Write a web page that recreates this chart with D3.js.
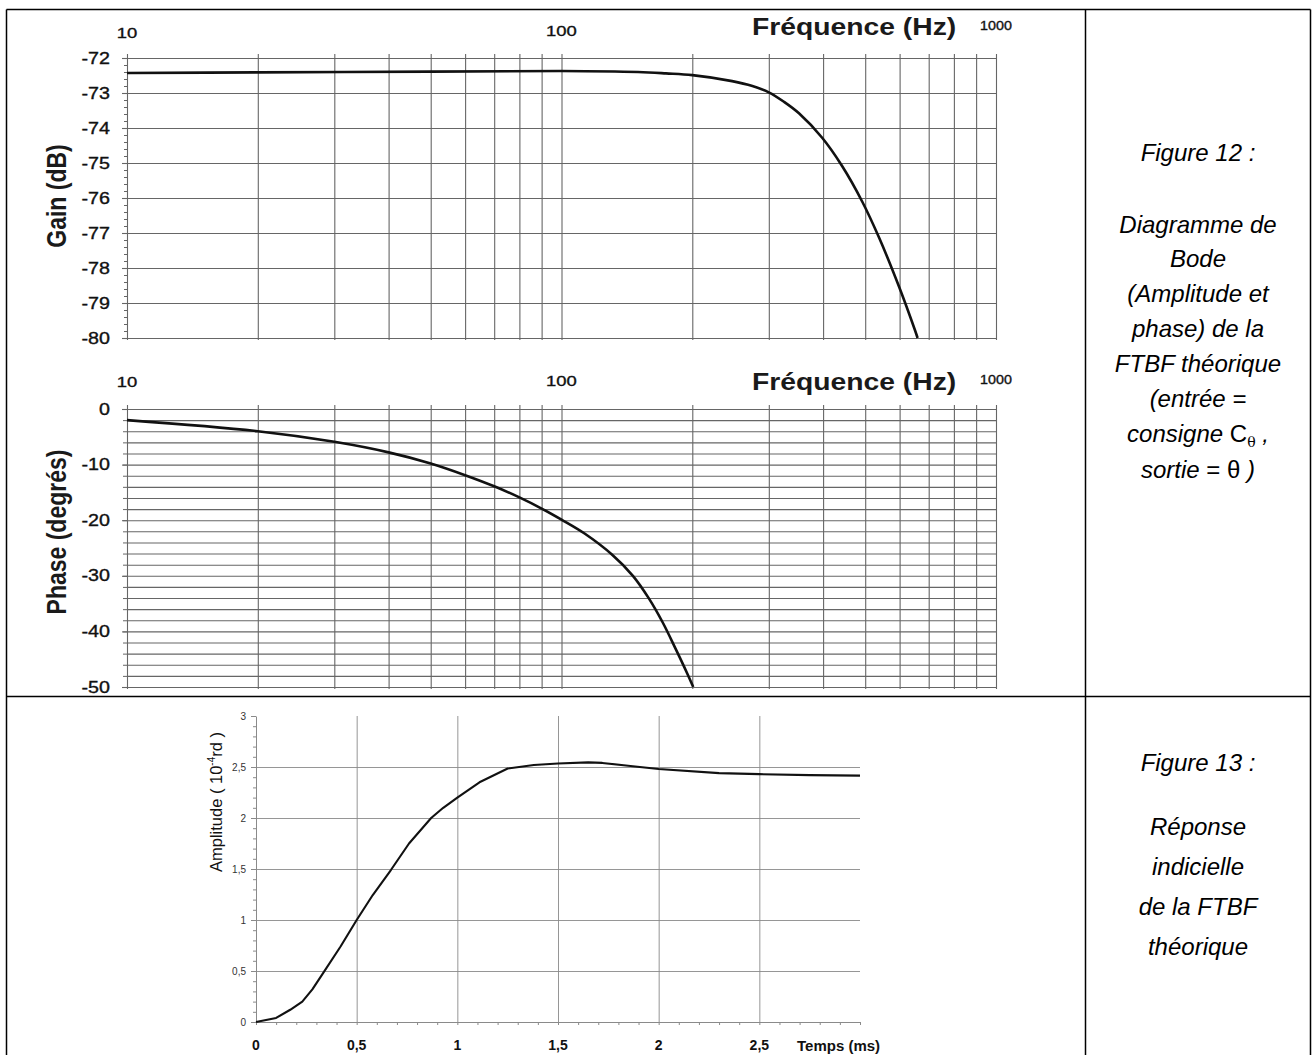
<!DOCTYPE html>
<html><head><meta charset="utf-8">
<script src="https://cdn.jsdelivr.net/npm/d3@7"></script>
<style>body{margin:0;background:#fff}svg{display:block}</style>
</head><body>
<svg id="c" width="1313" height="1055"></svg>
<script>
// ---------- data ----------
const gainFreq = [10, 20, 50, 100, 150, 174, 200, 247, 275, 300, 325, 352, 398, 442, 492, 538, 598, 651, 660];
const gainDb   = [-72.43, -72.41, -72.39, -72.37, -72.40, -72.44, -72.49, -72.66, -72.8, -72.98, -73.25, -73.58, -74.28, -75.08, -76.1, -77.13, -78.53, -79.78, -80.0];
const phaseFreq = [10, 20, 30, 40, 50, 60, 70, 80, 90, 100, 113, 131, 146, 159, 171, 183, 194, 201];
const phaseDeg  = [-2.0, -4.0, -5.9, -7.8, -9.8, -11.9, -13.9, -15.9, -17.9, -19.9, -22.4, -26.25, -30.0, -34.1, -38.4, -43.1, -47.3, -50.0];
const stepTime = [0, 0.1, 0.17, 0.23, 0.28, 0.33, 0.42, 0.5, 0.58, 0.67, 0.76, 0.87, 0.93, 1.0, 1.11, 1.25, 1.38, 1.5, 1.65, 1.72, 1.86, 2.0, 2.3, 2.5, 2.75, 3.0];
const stepAmp  = [0, 0.04, 0.12, 0.2, 0.32, 0.47, 0.74, 1.0, 1.245, 1.49, 1.75, 2.0, 2.1, 2.2, 2.35, 2.485, 2.52, 2.535, 2.545, 2.54, 2.51, 2.48, 2.44, 2.43, 2.42, 2.415];
const freqLabels = [10, 100, 1000];
const freqGrid = [10,20,30,40,50,60,70,80,90,100,200,300,400,500,600,700,800,900,1000];
const gainTicks = [-72,-73,-74,-75,-76,-77,-78,-79,-80];
const phaseTicks = [0,-10,-20,-30,-40,-50];
const stepXTicks = [0, 0.5, 1, 1.5, 2, 2.5];
const stepXLabels = ["0","0,5","1","1,5","2","2,5"];
const stepYTicks = [0, 0.5, 1, 1.5, 2, 2.5, 3];
const stepYLabels = ["0","0,5","1","1,5","2","2,5","3"];
const fig12Lines = [
  [["Figure 12 :","i"]],
  [["Diagramme de","i"]],
  [["Bode","i"]],
  [["(Amplitude et","i"]],
  [["phase) de la","i"]],
  [["FTBF théorique","i"]],
  [["(entrée =","i"]],
  [["consigne ","i"],["C","n"],["θ","sub"],["  ,","i"]],
  [["sortie ","i"],["= θ","n"],[" )","i"]]
];
const fig12Base = [161, 233, 267, 302, 337, 372, 407, 442, 478];
const fig13Lines = [
  [["Figure 13 :","i"]],
  [["Réponse","i"]],
  [["indicielle","i"]],
  [["de la FTBF","i"]],
  [["théorique","i"]]
];
const fig13Base = [771, 835, 875, 915, 955];

// ---------- setup ----------
const FONT = "'Liberation Sans', Arial, Helvetica, sans-serif";
const svg = d3.select("#c").attr("font-family", FONT);
svg.append("rect").attr("width",1313).attr("height",1055).attr("fill","#fff");

// table frame
const tb = svg.append("g").attr("stroke","#000").attr("stroke-width",1.5);
[[6.5,9.5,1310.5,9.5],[6.5,9.5,6.5,1070],[1310.5,9.5,1310.5,1070],[1085.5,9.5,1085.5,1070],[6.5,696.5,1310.5,696.5]]
  .forEach(l=>tb.append("line").attr("x1",l[0]).attr("y1",l[1]).attr("x2",l[2]).attr("y2",l[3]));

// ---------- Bode charts ----------
const XL = 127, XR = 996, SX = 1.23;
const xF = d3.scaleLog().domain([10,1000]).range([XL, XR]);
const gridCol = "#666";

function bode(cfg){
  const y = d3.scaleLinear().domain(cfg.domain).range([cfg.bottom, cfg.top]);
  const g = svg.append("g");
  g.append("g").attr("transform",`translate(${XL},0)`)
    .call(d3.axisLeft(y).tickValues(cfg.grid).tickSize(-(XR-XL)).tickFormat(""))
    .call(s=>{s.select(".domain").remove(); s.selectAll("line").attr("stroke",gridCol).attr("stroke-width",1.1);});
  g.append("g").attr("transform",`translate(${XL},0)`)
    .call(d3.axisLeft(y).tickValues(cfg.minor).tickSize(cfg.minorSize).tickFormat(""))
    .call(s=>{s.select(".domain").remove(); s.selectAll("line").attr("stroke",gridCol).attr("stroke-width",1);});
  g.append("g").attr("transform",`translate(${XL},0)`)
    .call(d3.axisLeft(y).tickValues(cfg.labels).tickSize(5).tickFormat(""))
    .call(s=>{s.select(".domain").remove(); s.selectAll("line").attr("stroke",gridCol).attr("stroke-width",1.1);});
  g.append("g").attr("transform",`translate(0,${cfg.bottom+2})`)
    .call(d3.axisBottom(xF).tickValues(freqGrid).tickSize(-(cfg.bottom-cfg.top+6)).tickFormat(""))
    .call(s=>{s.select(".domain").remove(); s.selectAll("line").attr("stroke",gridCol).attr("stroke-width",1.1);});
  g.selectAll("text.yl").data(cfg.labels).join("text").attr("class","yl")
    .attr("transform",d=>`translate(110,${y(d)+5.5}) scale(${SX},1)`)
    .attr("text-anchor","end").attr("font-size",16).attr("fill","#111")
    .attr("stroke","#111").attr("stroke-width",0.35).text(d=>String(d));
  g.selectAll("text.fl").data(freqLabels).join("text").attr("class","fl")
    .attr("transform",(d,i)=>`translate(${xF(d)},${cfg.labelBase[i]}) scale(${i==2?1.1:SX},1)`)
    .attr("text-anchor","middle").attr("font-size",(d,i)=>i==2?13:15).attr("fill","#111")
    .attr("stroke","#111").attr("stroke-width",0.35).text(d=>String(d));
  g.append("text").attr("transform",`translate(752,${cfg.titleBase}) scale(${SX},1)`)
    .attr("font-size",23).attr("font-weight","bold").attr("fill","#1a1a1a").text("Fréquence (Hz)");
  g.append("text").attr("transform",`translate(66,${cfg.titleCy}) rotate(-90) scale(1,${SX})`)
    .attr("text-anchor","middle").attr("font-size",23).attr("font-weight","bold").attr("fill","#1a1a1a").text(cfg.title);
  const pts = cfg.fx.map((f,i)=>[f,cfg.vy[i]]);
  g.append("path").datum(pts)
    .attr("d", d3.line().x(d=>xF(d[0])).y(d=>y(d[1])).curve(d3.curveCatmullRom.alpha(0.5)))
    .attr("fill","none").attr("stroke","#111").attr("stroke-width",2.6);
}

bode({top:58, bottom:338, domain:[-80,-72], grid:d3.range(-80,-71.5,1),
  minor:d3.range(0,41).map(i=>-80+i*0.2), minorSize:3, labels:gainTicks,
  labelBase:[38,36,30], titleBase:35, title:"Gain (dB)", titleCy:196, fx:gainFreq, vy:gainDb});
bode({top:409, bottom:687, domain:[-50,0], grid:d3.range(-50,0.5,2),
  minor:d3.range(-50,0.5,2), minorSize:4, labels:phaseTicks,
  labelBase:[387,386,384], titleBase:390, title:"Phase (degrés)", titleCy:532, fx:phaseFreq, vy:phaseDeg});

// ---------- Step response ----------
const xs = d3.scaleLinear().domain([0,3]).range([256,860]);
const ys = d3.scaleLinear().domain([0,3]).range([1022,716]);
const sg = svg.append("g");
const lightCol = "#8a8a8a";
sg.append("g").attr("transform","translate(256,0)")
  .call(d3.axisLeft(ys).tickValues([0.5,1,1.5,2,2.5]).tickSize(-(860-256)).tickFormat(""))
  .call(s=>{s.select(".domain").remove(); s.selectAll("line").attr("stroke",lightCol).attr("stroke-width",0.9);});
sg.append("g").attr("transform","translate(0,1022)")
  .call(d3.axisBottom(xs).tickValues([0.5,1,1.5,2,2.5]).tickSize(-(1022-716)).tickFormat(""))
  .call(s=>{s.select(".domain").remove(); s.selectAll("line").attr("stroke",lightCol).attr("stroke-width",0.9);});
sg.append("g").attr("transform","translate(256,0)")
  .call(d3.axisLeft(ys).tickValues(d3.range(0,31).map(i=>i/10)).tickSize(3).tickSizeOuter(0).tickFormat(""))
  .call(s=>{s.select(".domain").attr("stroke",lightCol); s.selectAll("line").attr("stroke",lightCol);});
sg.append("g").attr("transform","translate(256,0)")
  .call(d3.axisLeft(ys).tickValues(stepYTicks).tickSize(5).tickFormat(""))
  .call(s=>{s.select(".domain").remove(); s.selectAll("line").attr("stroke",lightCol);});
sg.append("g").attr("transform","translate(0,1022)")
  .call(d3.axisBottom(xs).tickValues(d3.range(0,31).map(i=>i/10)).tickSize(3).tickSizeOuter(0).tickFormat(""))
  .call(s=>{s.select(".domain").attr("stroke",lightCol); s.selectAll("line").attr("stroke",lightCol);});
sg.selectAll("text.sy").data(stepYTicks).join("text").attr("class","sy")
  .attr("x",246).attr("y",d=>ys(d)+3.5).attr("text-anchor","end")
  .attr("font-size",10).attr("fill","#333").text((d,i)=>stepYLabels[i]);
sg.selectAll("text.sx").data(stepXTicks).join("text").attr("class","sx")
  .attr("x",d=>xs(d)).attr("y",1050).attr("text-anchor","middle")
  .attr("font-size",14).attr("font-weight","bold").attr("fill","#111").text((d,i)=>stepXLabels[i]);
sg.append("text").attr("x",797).attr("y",1051).attr("font-size",15).attr("font-weight","bold").attr("fill","#111").text("Temps (ms)");
const at = sg.append("text").attr("transform","translate(222,802) rotate(-90)")
  .attr("text-anchor","middle").attr("font-size",16.5).attr("fill","#111");
at.append("tspan").text("Amplitude ( 10");
at.append("tspan").attr("font-size",10).attr("dy",-7).text("-4");
at.append("tspan").attr("dy",7).text("rd )");
sg.append("path").datum(stepTime.map((t,i)=>[t,stepAmp[i]]))
  .attr("d", d3.line().x(d=>xs(d[0])).y(d=>ys(d[1])))
  .attr("fill","none").attr("stroke","#111").attr("stroke-width",2.1).attr("stroke-linejoin","round");

// ---------- captions ----------
function caption(lines, bases){
  const cg = svg.append("g").attr("font-size",24).attr("fill","#000");
  lines.forEach((segs,i)=>{
    const t = cg.append("text").attr("x",1198).attr("y",bases[i]).attr("text-anchor","middle");
    const hasSub = segs.some(q=>q[1]==="sub");
    segs.forEach(s=>{
      const sp = t.append("tspan").text(s[0]);
      if (s[1]==="i") sp.attr("font-style","italic");
      if (s[1]==="sub") sp.attr("font-size",14).attr("dy",5).attr("font-family","'DejaVu Serif', serif");
      if (s[1]==="i" && hasSub && s[0].trim()===",") sp.attr("dy",-5);
    });
  });
}
caption(fig12Lines, fig12Base);
caption(fig13Lines, fig13Base);
</script>
</body></html>
